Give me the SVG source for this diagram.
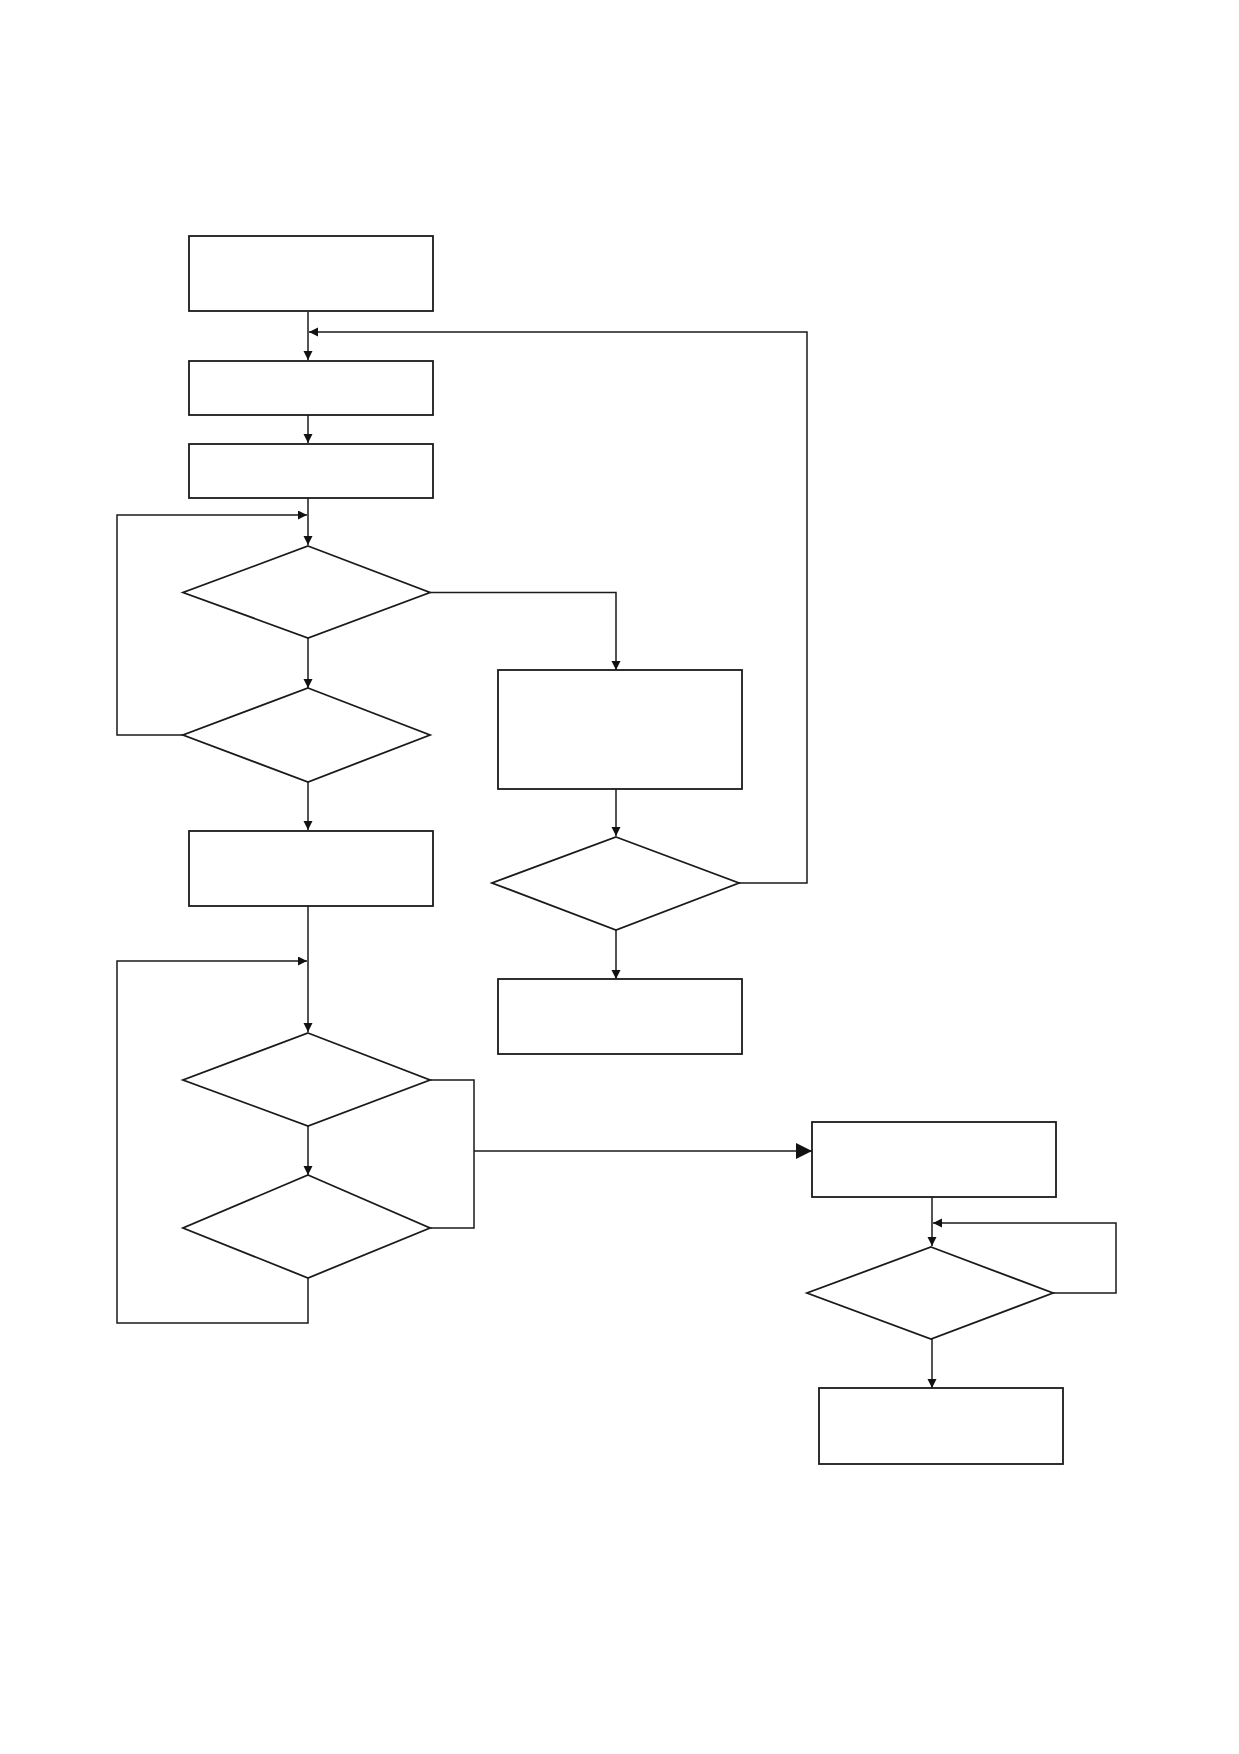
<svg xmlns="http://www.w3.org/2000/svg" width="1239" height="1754" viewBox="0 0 1239 1754">
<style>
.n{fill:#fff;stroke:#1a1a1a;stroke-width:1.8}
.c{fill:none;stroke:#1a1a1a;stroke-width:1.5}
</style>
<defs>
<marker id="a" markerUnits="userSpaceOnUse" markerWidth="10" markerHeight="10" refX="9" refY="4.5" orient="auto"><path d="M0,0 L9,4.5 L0,9 Z" fill="#111"/></marker>
<marker id="b" markerUnits="userSpaceOnUse" markerWidth="17" markerHeight="17" refX="16" refY="8" orient="auto"><path d="M0,0 L16,8 L0,16 Z" fill="#111"/></marker>
</defs>
<rect width="1239" height="1754" fill="#fff"/>
<g id="connectors">
<path class="c" d="M308,312 V360" marker-end="url(#a)"/>
<path class="c" d="M739,883 H807 V332 H309" marker-end="url(#a)"/>
<path class="c" d="M308,415 V443" marker-end="url(#a)"/>
<path class="c" d="M308,498 V545" marker-end="url(#a)"/>
<path class="c" d="M183,735 H117 V515 H307" marker-end="url(#a)"/>
<path class="c" d="M308,638 V688" marker-end="url(#a)"/>
<path class="c" d="M430,592.5 H616 V670" marker-end="url(#a)"/>
<path class="c" d="M308,782 V830" marker-end="url(#a)"/>
<path class="c" d="M616,789 V836" marker-end="url(#a)"/>
<path class="c" d="M616,930 V979" marker-end="url(#a)"/>
<path class="c" d="M308,906 V1032" marker-end="url(#a)"/>
<path class="c" d="M308,1278 V1323 H117 V961 H307" marker-end="url(#a)"/>
<path class="c" d="M308,1126 V1175" marker-end="url(#a)"/>
<path class="c" d="M430,1080 H474 V1228 H430"/>
<path class="c" d="M474,1151 H812" marker-end="url(#b)"/>
<path class="c" d="M932,1197 V1246" marker-end="url(#a)"/>
<path class="c" d="M1053,1293 H1116 V1223 H933" marker-end="url(#a)"/>
<path class="c" d="M932,1339 V1388" marker-end="url(#a)"/>
</g>
<g id="box1"><rect class="n" x="189" y="236" width="244" height="75"/></g>
<g id="box2"><rect class="n" x="189" y="361" width="244" height="54"/></g>
<g id="box3"><rect class="n" x="189" y="444" width="244" height="54"/></g>
<g id="dec1"><polygon class="n" points="308,546 430,592.5 308,638 183,592.5"/></g>
<g id="dec2"><polygon class="n" points="308,688 430,735 308,782 183,735"/></g>
<g id="box4"><rect class="n" x="189" y="831" width="244" height="75"/></g>
<g id="box5"><rect class="n" x="498" y="670" width="244" height="119"/></g>
<g id="dec3"><polygon class="n" points="616,837 739,883 616,930 492,883"/></g>
<g id="box6"><rect class="n" x="498" y="979" width="244" height="75"/></g>
<g id="dec4"><polygon class="n" points="308,1033 430,1080 308,1126 183,1080"/></g>
<g id="dec5"><polygon class="n" points="308,1175 430,1228 308,1278 183,1228"/></g>
<g id="box7"><rect class="n" x="812" y="1122" width="244" height="75"/></g>
<g id="dec6"><polygon class="n" points="931,1247 1053,1293 931,1339 807,1293"/></g>
<g id="box8"><rect class="n" x="819" y="1388" width="244" height="76"/></g>
</svg>
